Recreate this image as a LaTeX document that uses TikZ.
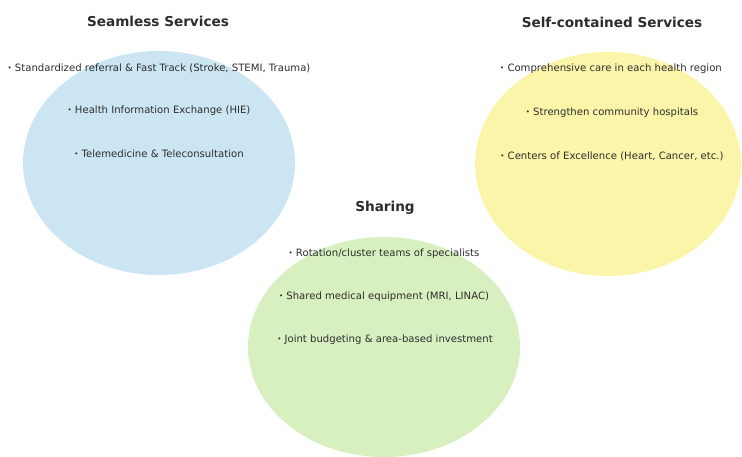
\documentclass[tikz,border=0pt]{standalone}
\usepackage{fontspec}
\setmainfont{DejaVu Sans}
\usetikzlibrary{shapes.geometric}
\definecolor{cblue}{RGB}{204,229,242}
\definecolor{cyellow}{RGB}{251,245,170}
\definecolor{cgreen}{RGB}{216,239,192}
\definecolor{ctext}{RGB}{45,45,45}
\newcommand\mybul{\raisebox{0.9pt}{\fontsize{7}{8}\selectfont•}}
\begin{document}
\begin{tikzpicture}[x=1pt,y=1pt,
  blob/.style={ellipse, inner sep=0pt, draw=none},
  ttl/.style={font=\fontsize{13.6}{15}\selectfont\bfseries, text=ctext, anchor=center},
  itm/.style={font=\fontsize{10.1}{12}\selectfont, text=ctext, anchor=center}]
\useasboundingbox (0,0) rectangle (742,457);
\fill[white] (0,0) rectangle (742,457);
% ellipses
\node[blob, fill=cblue, minimum width=272pt, minimum height=224pt] (eb) at (159,294) {};
\node[blob, fill=cyellow, minimum width=266pt, minimum height=224pt] (ey) at (608,293) {};
\node[blob, fill=cgreen, minimum width=272pt, minimum height=220pt] (eg) at (384,110) {};
% titles
\node[ttl] (tb) at (158,436) {Seamless Services};
\node[ttl] (ty) at (612,435) {Self-contained Services};
\node[ttl] (tg) at (385,249) {Sharing};
% blue items
\node[itm] (b1) at (159,389) {\mybul\ Standardized referral \& Fast Track (Stroke, STEMI, Trauma)};
\node[itm] (b2) at (159,346) {\mybul\ Health Information Exchange (HIE)};
\node[itm] (b3) at (159,303) {\mybul\ Telemedicine \& Teleconsultation};
% yellow items
\node[itm] (y1) at (611,388) {\mybul\ Comprehensive care in each health region};
\node[itm] (y2) at (612,344) {\mybul\ Strengthen community hospitals};
\node[itm] (y3) at (612,301) {\mybul\ Centers of Excellence (Heart, Cancer, etc.)};
% green items
\node[itm] (g1) at (384,203) {\mybul\ Rotation/cluster teams of specialists};
\node[itm] (g2) at (384,160) {\mybul\ Shared medical equipment (MRI, LINAC)};
\node[itm] (g3) at (385,117) {\mybul\ Joint budgeting \& area-based investment};
\end{tikzpicture}
\end{document}
